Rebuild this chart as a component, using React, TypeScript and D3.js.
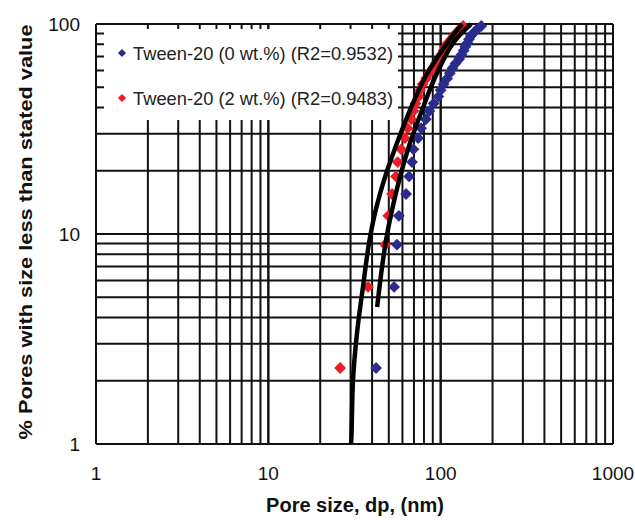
import React from "react";
import * as d3 from "d3";

// cumulative % of pores (shared by both series)
const cumPct = [2.3, 5.6, 8.9, 12.2, 15.5, 18.8, 22.0, 25.3, 28.6, 31.9, 35.2, 38.5, 41.8, 45.1, 48.4,
  51.7, 55.0, 58.3, 61.6, 64.9, 68.1, 71.4, 74.7, 78.0, 81.3, 84.6, 87.9, 91.2, 94.5, 97.8];

// pore size (nm) for Tween-20 (0 wt.%)
const blueSize = [42.2, 53.7, 55.8, 57.2, 63.0, 65.6, 68.2, 69.5, 74, 77, 82, 86, 91, 97, 100,
  104, 109, 113, 117, 122, 128, 132, 136, 139, 143, 146, 150, 156, 163, 172];

// pore size (nm) for Tween-20 (2 wt.%)
const redSize = [26.1, 37.9, 47.6, 49.6, 52.2, 55.0, 56.3, 59.0, 62, 64.2, 67.5, 69.5, 71.4, 74.4, 76.0,
  78.5, 82.5, 86, 90, 94, 98, 101, 104, 107, 110, 115, 119, 124, 129, 135];

// fitted curves [size nm, %]
const fitRed: [number, number][] = [[30.2, 1.0], [30.4, 1.13], [31.0, 2.02], [32.7, 3.38], [35.4, 5.59],
  [38.4, 9.05], [41.6, 12.6], [47.6, 18.7], [55.8, 27.1], [66.4, 38.9], [81.2, 55.8], [109, 81.1], [133, 100]];
const fitBlue: [number, number][] = [[42.8, 4.49], [45.7, 6.97], [48.2, 9.36], [52.2, 13.0], [58.1, 18.7],
  [66.4, 27.1], [78.0, 38.9], [92.8, 55.8], [118, 81.1], [150, 100]];

const xTicks = [1, 10, 100, 1000];
const yTicks = [1, 10, 100];
const legendItems = [
  { label: "Tween-20 (0 wt.%) (R2=0.9532)", color: "#2b2b8f" },
  { label: "Tween-20 (2 wt.%) (R2=0.9483)", color: "#ee1c24" },
];

const W = 635, H = 524;
const left = 96, right = 613, top = 24, bottom = 444;

export default function App() {
  const x = d3.scaleLog().domain([1, 1000]).range([left, right]);
  const y = d3.scaleLog().domain([1, 100]).range([bottom, top]);

  const xGrid: number[] = [];
  const yGrid: number[] = [];
  for (let d = 1; d < 1000; d *= 10) for (let k = 1; k <= 10; k++) xGrid.push(d * k);
  for (let d = 1; d < 100; d *= 10) for (let k = 1; k <= 10; k++) yGrid.push(d * k);

  const diamond = d3.symbol(d3.symbolSquare, 70)()!;
  const smallDiamond = d3.symbol(d3.symbolSquare, 34)()!;
  const line = d3.line<[number, number]>()
    .x((d) => x(d[0]))
    .y((d) => y(d[1]))
    .curve(d3.curveCatmullRom);

  const gridColor = "#111";
  const font = "'Liberation Sans', Arial, sans-serif";

  return (
    <svg width={W} height={H} style={{ position: "absolute", left: 0, top: 0, background: "#fff" }}>
      <g>
        {xGrid.map((v, i) => (
          <line key={"x" + i} x1={x(v)} x2={x(v)} y1={top} y2={bottom} stroke={gridColor} strokeWidth={2} />
        ))}
        {yGrid.map((v, i) => (
          <line key={"y" + i} x1={left} x2={right} y1={y(v)} y2={y(v)} stroke={gridColor} strokeWidth={2} />
        ))}
      </g>
      {/* legend background */}
      <rect x={104} y={29} width={294} height={91} fill="#fff" />
      <defs>
        <clipPath id="plot">
          <rect x={left} y={top - 6} width={right - left} height={bottom - top + 6} />
        </clipPath>
      </defs>
      <g>
        {cumPct.map((p, i) => (
          <path key={"b" + i} d={diamond} fill="#2b2b8f"
            transform={`translate(${x(blueSize[i])},${y(p)}) rotate(45)`} />
        ))}
        {cumPct.map((p, i) => (
          <path key={"r" + i} d={diamond} fill="#ee1c24"
            transform={`translate(${x(redSize[i])},${y(p)}) rotate(45)`} />
        ))}
      </g>
      <g clipPath="url(#plot)">
        <path d={line(fitRed)!} fill="none" stroke="#000" strokeWidth={4.5} />
        <path d={line(fitBlue)!} fill="none" stroke="#000" strokeWidth={4.5} />
      </g>
      {legendItems.map((it, i) => (
        <g key={it.label} transform={`translate(122,${53 + i * 45})`}>
          <path d={smallDiamond} fill={it.color} transform="rotate(45)" />
          <text x={11} y={6.5} fontFamily={font} fontSize={18.5} fill="#222"
            textLength={260} lengthAdjust="spacingAndGlyphs">{it.label}</text>
        </g>
      ))}
      {xTicks.map((v) => (
        <text key={"xt" + v} x={x(v)} y={480} textAnchor="middle" fontFamily={font} fontSize={19} fill="#111">{v}</text>
      ))}
      {yTicks.map((v) => (
        <text key={"yt" + v} x={80} y={y(v) + 7} textAnchor="end" fontFamily={font} fontSize={19} fill="#111">{v}</text>
      ))}
      <text x={355} y={512} textAnchor="middle" fontFamily={font} fontSize={20} fontWeight="bold" fill="#111">
        Pore size, dp, (nm)
      </text>
      <text transform="translate(32,232) rotate(-90)" textAnchor="middle" fontFamily={font} fontSize={19}
        fontWeight="bold" fill="#111" textLength={415} lengthAdjust="spacingAndGlyphs">
        % Pores with size less than stated value
      </text>
    </svg>
  );
}
